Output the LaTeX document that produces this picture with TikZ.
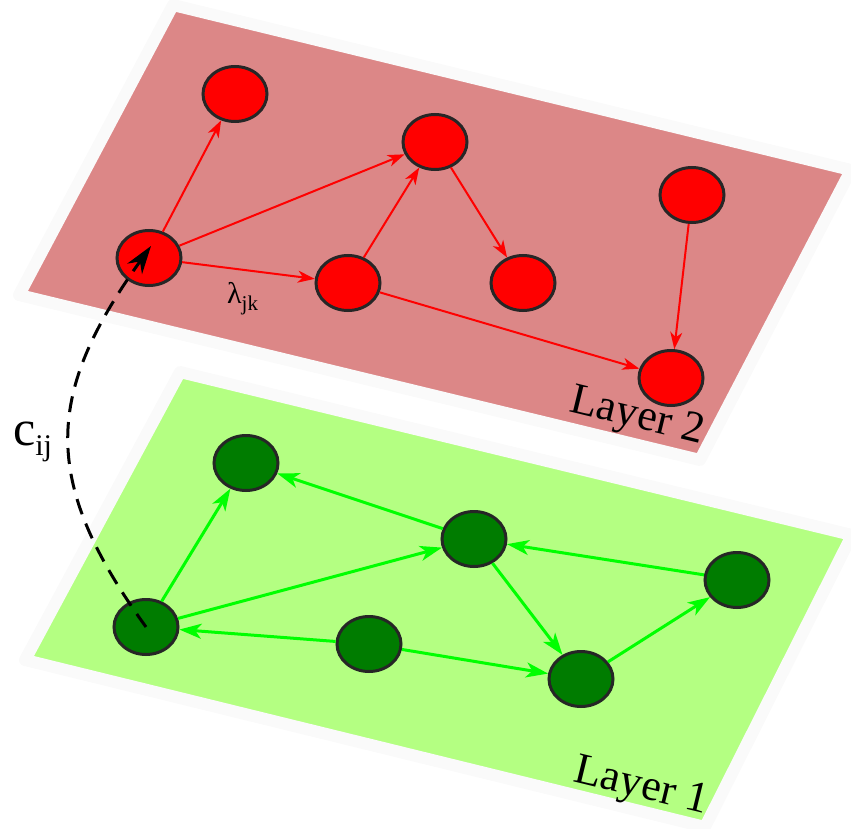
\documentclass[tikz,border=0pt]{standalone}
\usepackage{fontspec}
\setmainfont{Liberation Serif}
\usetikzlibrary{shapes.geometric,arrows.meta}
\definecolor{planered}{RGB}{220,135,135}
\definecolor{planegreen}{RGB}{180,255,130}
\definecolor{nodegreen}{RGB}{0,124,0}
\definecolor{rimgray}{RGB}{250,250,250}
\definecolor{lime}{RGB}{0,255,0}
\begin{document}
\begin{tikzpicture}[x=1pt,y=-1pt,
  plane/.style={draw=rimgray,line width=12,line join=round},
  nd/.style={ellipse,draw=black!85,line width=3,minimum width=64,minimum height=55,inner sep=0},
  rnd/.style={nd,fill=red},
  gnd/.style={nd,fill=nodegreen},
  rarr/.style={draw=red,line width=2,-{Stealth[length=17,width=12,inset=5]}},
  garr/.style={draw=lime,line width=3,-{Stealth[length=22,width=15,inset=6]}},
  layerlbl/.style={font=\fontsize{44}{44}\selectfont,rotate=-13.7,inner sep=0}
]
\useasboundingbox (0,0) rectangle (851,829);
% planes
\path[plane,fill=planered] (173,5) -- (851,170) -- (700,460) -- (19,295) -- cycle;
\path[plane,fill=planegreen] (180,372) -- (852,535) -- (705,827) -- (25,660) -- cycle;
% red layer nodes
\node[rnd] (R1) at (235,94) {};
\node[rnd] (R2) at (149,258) {};
\node[rnd] (R3) at (435,142) {};
\node[rnd] (R4) at (348,283) {};
\node[rnd] (R5) at (523,283) {};
\node[rnd] (R6) at (692,195) {};
\node[rnd] (R7) at (671,378) {};
% green layer nodes
\node[gnd] (G1) at (246,463) {};
\node[gnd] (G2) at (146,627) {};
\node[gnd] (G3) at (474,539) {};
\node[gnd] (G4) at (369,644) {};
\node[gnd] (G5) at (581,679) {};
\node[gnd] (G6) at (737,580) {};
% red edges
\draw[rarr] (R2) -- (R1);
\draw[rarr] (R2) -- (R3);
\draw[rarr] (R2) -- (R4);
\draw[rarr] (R4) -- (R3);
\draw[rarr] (R3) -- (R5);
\draw[rarr] (R4) -- (R7);
\draw[rarr] (R6) -- (R7);
% green edges
\draw[garr] (G2) -- (G1);
\draw[garr] (G2) -- (G3);
\draw[garr] (G3) -- (G1);
\draw[garr] (G4) -- (G2);
\draw[garr] (G4) -- (G5);
\draw[garr] (G3) -- (G5);
\draw[garr] (G6) -- (G3);
\draw[garr] (G5) -- (G6);
% labels
\node[anchor=base west,inner sep=0] (lam) at (227,303) {\fontsize{30}{30}\selectfont λ\raisebox{-7pt}{\fontsize{21}{21}\selectfont jk}};
\node[anchor=base west,inner sep=0] (cij) at (13,445) {\fontsize{50}{50}\selectfont c\raisebox{-10pt}{\fontsize{30}{30}\selectfont ij}};
\node[layerlbl] (L2) at (637,418) {Layer 2};
\node[layerlbl] (L1) at (641,788) {Layer 1};
% inter-layer dashed link
\coordinate (ctip) at (151,246);
\draw[line width=3,dash pattern=on 16 off 10,-{Stealth[length=28,width=18,inset=9]}]
  (G2.center) .. controls (39,479) and (46,393) .. (ctip);
\end{tikzpicture}
\end{document}
